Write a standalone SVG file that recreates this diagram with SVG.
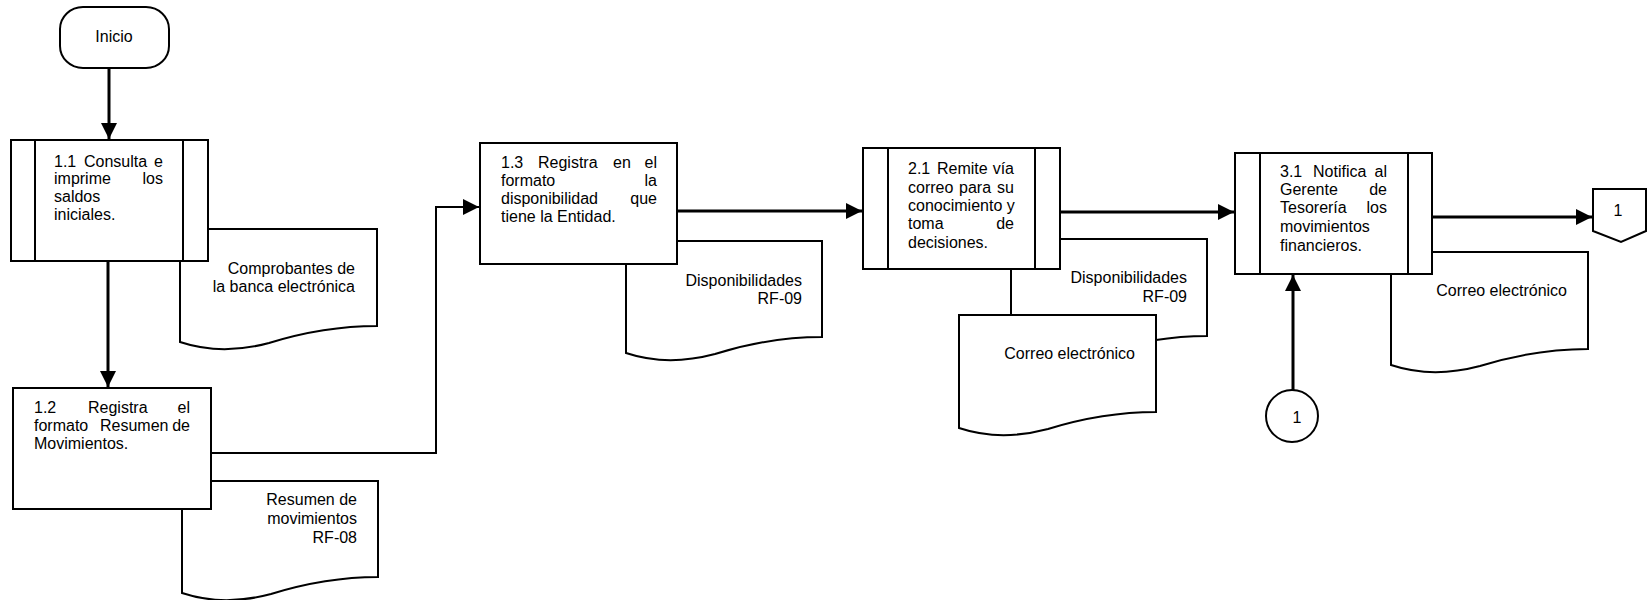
<svg xmlns="http://www.w3.org/2000/svg" width="1647" height="600" viewBox="0 0 1647 600">
<defs>
<style>
.sh{fill:#fff;stroke:#000;stroke-width:2}
.ln{fill:none;stroke:#000;stroke-width:2}
.t{font-family:"Liberation Sans",Arial,sans-serif;font-size:16px;fill:#000}
.e{text-anchor:end}
.m{text-anchor:middle}
.ar{fill:none;stroke:#000;stroke-width:3}
.ar2{fill:none;stroke:#000;stroke-width:2}
</style>
<marker id="ah" markerUnits="userSpaceOnUse" markerWidth="17" markerHeight="16" refX="16" refY="8" orient="auto">
<path d="M0,0 L16,8 L0,16 Z" fill="#000"/>
</marker>
</defs>
<rect width="1647" height="600" fill="#fff"/>

<g id="connectors">
<line class="ar" x1="109" y1="68" x2="109" y2="139" marker-end="url(#ah)"/>
<line class="ar" x1="108" y1="261" x2="108" y2="387" marker-end="url(#ah)"/>
<polyline class="ar2" points="211,453 436,453 436,207 479,207" marker-end="url(#ah)"/>
<line class="ar" x1="677" y1="211" x2="862" y2="211" marker-end="url(#ah)"/>
<line class="ar" x1="1060" y1="212" x2="1234" y2="212" marker-end="url(#ah)"/>
<line class="ar" x1="1432" y1="217" x2="1592" y2="217" marker-end="url(#ah)"/>
<line class="ar" x1="1293" y1="390" x2="1293" y2="275" marker-end="url(#ah)"/>
</g>

<g id="doc-comprobantes">
<path class="sh" d="M180,229 L377,229 L377,326 C334,326 298,334 269,343 C239,351 210,352 180,342 Z"/>
<text class="t e" x="355" y="274">Comprobantes de</text>
<text class="t e" x="355" y="292">la banca electrónica</text>
</g>

<g id="doc-resumen">
<path class="sh" d="M182,481 L378,481 L378,577 C336,577 300,585 271,594 C241,602 212,603 182,593 Z"/>
<text class="t e" x="357" y="505">Resumen de</text>
<text class="t e" x="357" y="524">movimientos</text>
<text class="t e" x="357" y="543">RF-08</text>
</g>

<g id="doc-disp1">
<path class="sh" d="M626,241 L822,241 L822,337 C780,337 744,345 715,354 C685,362 656,363 626,353 Z"/>
<text class="t e" x="802" y="286">Disponibilidades</text>
<text class="t e" x="802" y="304">RF-09</text>
</g>

<g id="doc-disp2">
<path class="sh" d="M1011,239 L1207,239 L1207,336 C1165,336 1129,344 1100,353 C1070,361 1041,362 1011,352 Z"/>
<text class="t e" x="1187" y="283">Disponibilidades</text>
<text class="t e" x="1187" y="302">RF-09</text>
</g>

<g id="doc-correo1">
<path class="sh" d="M959,315 L1156,315 L1156,412 C1113,412 1077,420 1048,429 C1018,437 989,438 959,428 Z"/>
<text class="t e" x="1135" y="359">Correo electrónico</text>
</g>

<g id="doc-correo2">
<path class="sh" d="M1391,252 L1588,252 L1588,349 C1545,349 1509,357 1480,366 C1450,374 1421,375 1391,365 Z"/>
<text class="t e" x="1567" y="296">Correo electrónico</text>
</g>

<g id="inicio">
<rect class="sh" x="60" y="7" width="109" height="61" rx="23" ry="22"/>
<text class="t m" x="114" y="42">Inicio</text>
</g>

<g id="p1-1">
<rect class="sh" x="11" y="140" width="197" height="121"/>
<line class="ln" x1="35" y1="140" x2="35" y2="261"/>
<line class="ln" x1="183" y1="140" x2="183" y2="261"/>
<text class="t" x="54" y="167">1.1</text>
<text class="t" x="84" y="167">Consulta</text>
<text class="t e" x="163" y="167">e</text>
<text class="t" x="54" y="184">imprime</text>
<text class="t e" x="163" y="184">los</text>
<text class="t" x="54" y="202">saldos</text>
<text class="t" x="54" y="220">iniciales.</text>
</g>

<g id="p1-2">
<rect class="sh" x="13" y="388" width="198" height="121"/>
<text class="t" x="34" y="413">1.2</text>
<text class="t" x="88" y="413">Registra</text>
<text class="t e" x="190" y="413">el</text>
<text class="t" x="34" y="431">formato</text>
<text class="t" x="100" y="431">Resumen</text>
<text class="t e" x="190" y="431">de</text>
<text class="t" x="34" y="449">Movimientos.</text>
</g>

<g id="p1-3">
<rect class="sh" x="480" y="143" width="197" height="121"/>
<text class="t" x="501" y="168">1.3</text>
<text class="t" x="538" y="168">Registra</text>
<text class="t" x="613" y="168">en</text>
<text class="t e" x="657" y="168">el</text>
<text class="t" x="501" y="186">formato</text>
<text class="t e" x="657" y="186">la</text>
<text class="t" x="501" y="204">disponibilidad</text>
<text class="t e" x="657" y="204">que</text>
<text class="t" x="501" y="222">tiene la Entidad.</text>
</g>

<g id="p2-1">
<rect class="sh" x="863" y="148" width="197" height="121"/>
<line class="ln" x1="888" y1="148" x2="888" y2="269"/>
<line class="ln" x1="1035" y1="148" x2="1035" y2="269"/>
<text class="t" x="908" y="174">2.1</text>
<text class="t" x="937" y="174">Remite</text>
<text class="t e" x="1014" y="174">vía</text>
<text class="t" x="908" y="193">correo</text>
<text class="t" x="959" y="193">para</text>
<text class="t e" x="1014" y="193">su</text>
<text class="t" x="908" y="211">conocimiento y</text>
<text class="t" x="908" y="229">toma</text>
<text class="t e" x="1014" y="229">de</text>
<text class="t" x="908" y="248">decisiones.</text>
</g>

<g id="p3-1">
<rect class="sh" x="1235" y="153" width="197" height="121"/>
<line class="ln" x1="1260" y1="153" x2="1260" y2="274"/>
<line class="ln" x1="1408" y1="153" x2="1408" y2="274"/>
<text class="t" x="1280" y="177">3.1</text>
<text class="t" x="1313" y="177">Notifica</text>
<text class="t e" x="1387" y="177">al</text>
<text class="t" x="1280" y="195">Gerente</text>
<text class="t e" x="1387" y="195">de</text>
<text class="t" x="1280" y="213">Tesorería</text>
<text class="t e" x="1387" y="213">los</text>
<text class="t" x="1280" y="232">movimientos</text>
<text class="t" x="1280" y="251">financieros.</text>
</g>

<g id="conector-entrada">
<circle class="sh" cx="1292" cy="416" r="26"/>
<text class="t m" x="1297" y="423">1</text>
</g>

<g id="conector-salida">
<path class="sh" d="M1593,189 L1646,189 L1646,231 L1621,242 L1593,231 Z"/>
<text class="t m" x="1618" y="216">1</text>
</g>
</svg>
